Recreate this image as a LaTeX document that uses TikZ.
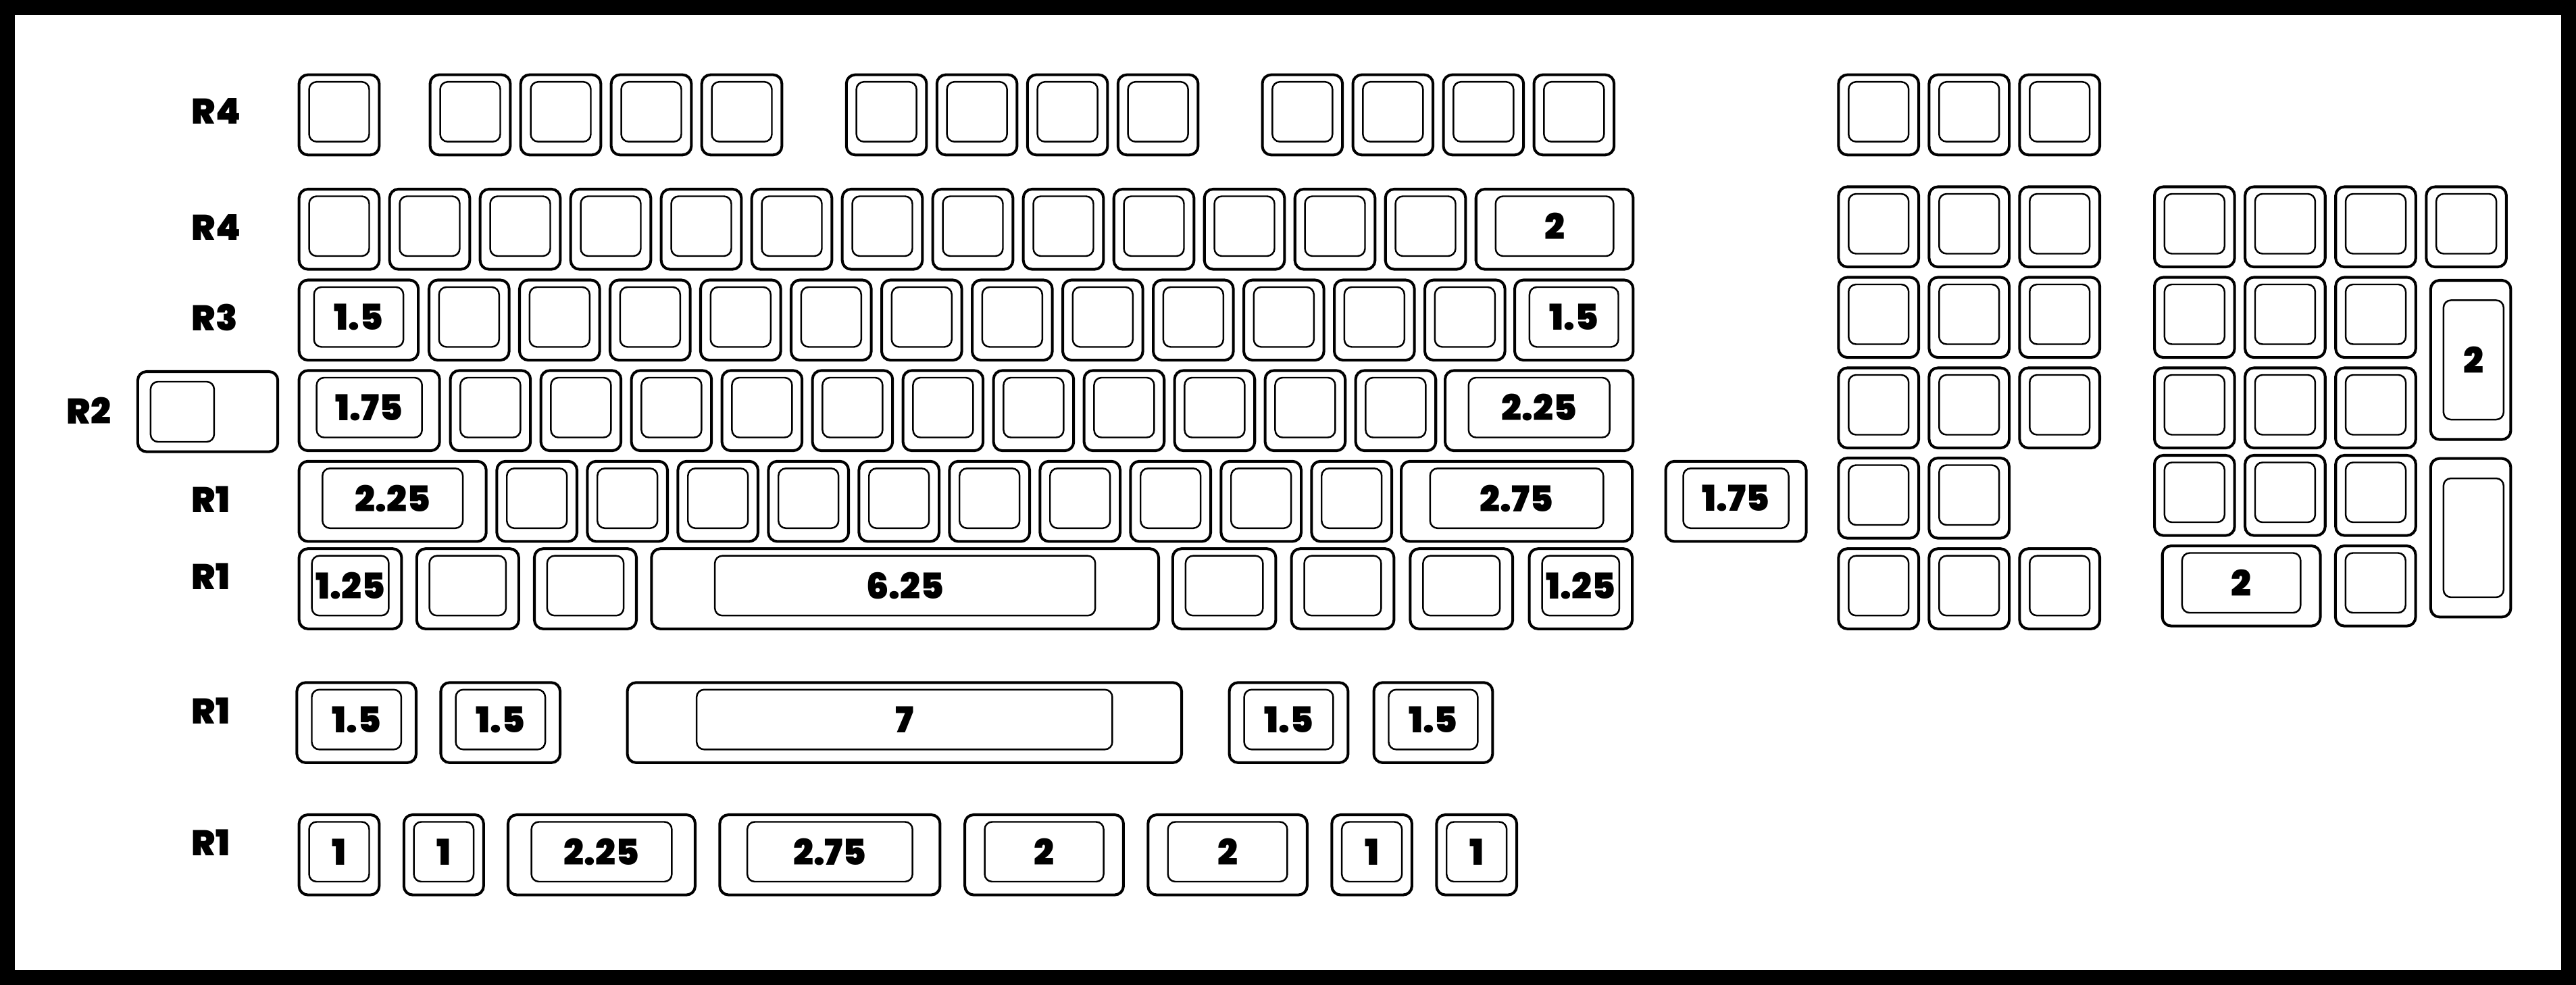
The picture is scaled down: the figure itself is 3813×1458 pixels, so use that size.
\documentclass[tikz,border=0pt]{standalone}
\usepackage{fontspec}
\setmainfont{Poppins}[BoldFont={* Black}]
\newdimen\pxu
\pxu=0.01cm

% keycap: name, left, top, width, legend
\newcommand{\Key}[5]{%
  \node[keycap, minimum width=#4\pxu, anchor=north west] (#1) at (#2,#3) {};
  \node[keytop, minimum width=0.75*#4\pxu, anchor=north] (#1-top) at ([yshift=-10.5\pxu]#1.north) {#5};
}
% tall keycap: name, left, top, height, legend
\newcommand{\TallKey}[5]{%
  \node[keycap, minimum height=#4\pxu, anchor=north west] (#1) at (#2,#3) {};
  \node[keytop, minimum width=89\pxu, minimum height=0.75*#4\pxu, anchor=east] (#1-top) at ([xshift=-10.6\pxu]#1.east) {#5};
}

\begin{document}
\begin{tikzpicture}[x=0.01cm, y=-0.01cm]
\tikzset{keycap/.style = {draw, line width=1.15pt, rounded corners=0.13cm,
                       minimum width=118.6\pxu, minimum height=118.6\pxu,
                       inner sep=0pt, outer sep=0pt},
         keytop/.style = {draw, line width=0.7pt, rounded corners=0.11cm,
                       minimum height=88.5\pxu, inner sep=0pt, outer sep=0pt,
                       font=\bfseries\fontsize{15}{18}\selectfont},
         rowlab/.style = {anchor=west, inner sep=0pt,
                       font=\bfseries\fontsize{15}{18}\selectfont}
  }
\useasboundingbox (0,0) rectangle (3813,1458);
\draw[line width=22\pxu] (11,11) rectangle (3802,1447);

% row labels
\node[rowlab] (lab1) at (283,164.6) {R4};
\node[rowlab] (lab2) at (283,337) {R4};
\node[rowlab] (lab3) at (283,469.7) {R3};
\node[rowlab] (lab4) at (98,608) {R2};
\node[rowlab] (lab5) at (283,739) {R1};
\node[rowlab] (lab6) at (283,853.6) {R1};
\node[rowlab] (lab7) at (283,1051.8) {R1};
\node[rowlab] (lab8) at (283,1247.5) {R1};

% function row
\Key{esc}{442.7}{110.7}{118.6}{}
\foreach \i in {0,...,3} {\Key{fa\i}{636.7+134*\i}{110.7}{118.6}{}}
\foreach \i in {0,...,3} {\Key{fb\i}{1252.8+134*\i}{110.7}{118.6}{}}
\foreach \i in {0,...,3} {\Key{fc\i}{1868.5+134*\i}{110.7}{118.6}{}}
%-----------------------------
\foreach \i in {0,...,12} {\Key{a\i}{442.7+134*\i}{280}{118.6}{}}
\Key{a13}{2184.7}{280}{232.7}{2}
%-----------------------------
\Key{b0}{442.7}{414.5}{176.5}{1.5}
\foreach \i in {1,...,12} {\Key{b\i}{501+134*\i}{414.5}{118.6}{}}
\Key{b13}{2242}{414.5}{175.4}{1.5}
%-----------------------------
\Key{c0}{442.7}{548.5}{208}{1.75}
\foreach \i in {1,...,11} {\Key{c\i}{532.6+134*\i}{548.5}{118.6}{}}
\Key{c12}{2139}{548.5}{278.4}{2.25}
%-----------------------------
\Key{d0}{442.7}{682.8}{277}{2.25}
\foreach \i in {1,...,10} {\Key{d\i}{601.4+134*\i}{682.8}{118.6}{}}
\Key{d11}{2074}{682.8}{342}{2.75}
\Key{d12}{2465.5}{682.8}{208}{1.75}
%-----------------------------
\Key{e0}{442.7}{812.2}{151.7}{1.25}
\Key{e1}{616.8}{812.2}{151}{}
\Key{e2}{791}{812.2}{151}{}
\Key{e3}{964.3}{812.2}{750.7}{6.25}
\Key{e4}{1735.8}{812.2}{152.6}{}
\Key{e5}{1911.6}{812.2}{151.7}{}
\Key{e6}{2087.4}{812.2}{151.7}{}
\Key{e7}{2263.5}{812.2}{152.5}{1.25}
%-----------------------------
\Key{g0}{439.4}{1010.3}{176.6}{1.5}
\Key{g1}{652.5}{1010.3}{176.6}{1.5}
\Key{g2}{928.6}{1010.3}{820.4}{7}
\Key{g3}{1819.6}{1010.3}{175.8}{1.5}
\Key{g4}{2033.5}{1010.3}{175.8}{1.5}
%-----------------------------
\Key{h0}{442.7}{1206}{118.6}{1}
\Key{h1}{597.8}{1206}{118}{1}
\Key{h2}{752}{1206}{277}{2.25}
\Key{h3}{1065.4}{1206}{326}{2.75}
\Key{h4}{1428.2}{1206}{234.7}{2}
\Key{h5}{1699.3}{1206}{235.5}{2}
\Key{h6}{1971.3}{1206}{118.6}{1}
\Key{h7}{2126.4}{1206}{118.6}{1}

% stepped key
\node[keycap, minimum width=207.3\pxu, anchor=north west] (caps) at (203.9,550) {};
\node[keytop, minimum width=94\pxu, minimum height=89\pxu, anchor=north west] (caps-top)
  at ([xshift=19\pxu, yshift=-15\pxu]caps.north west) {};

% nav cluster
\foreach \i in {0,1,2} {\Key{pf\i}{2721.4+134*\i}{110.7}{118.6}{}}
\foreach \i in {0,1,2} {\Key{pa\i}{2721.4+134*\i}{276.5}{118.6}{}}
\foreach \i in {0,1,2} {\Key{pb\i}{2721.4+134*\i}{410.5}{118.6}{}}
\foreach \i in {0,1,2} {\Key{pc\i}{2721.4+134*\i}{544.5}{118.6}{}}
\foreach \i in {0,1} {\Key{pd\i}{2721.4+134*\i}{678}{118.6}{}}
\foreach \i in {0,1,2} {\Key{pe\i}{2721.4+134*\i}{812.2}{118.6}{}}

% numpad
\foreach \i in {0,...,3} {\Key{qa\i}{3189+134.1*\i}{276.5}{118.6}{}}
\foreach \i in {0,1,2} {\Key{qb\i}{3189+134.1*\i}{410.5}{118.6}{}}
\foreach \i in {0,1,2} {\Key{qc\i}{3189+134.1*\i}{544.5}{118.6}{}}
\foreach \i in {0,1,2} {\Key{qd\i}{3189+134.1*\i}{674}{118.6}{}}
\Key{qe0}{3200.7}{808}{233.8}{2}
\Key{qe1}{3456.9}{808}{118.6}{}
\TallKey{plus}{3597.8}{415}{235.5}{2}
\TallKey{enter}{3597.8}{678.7}{234.6}{}

\end{tikzpicture}
\end{document}
